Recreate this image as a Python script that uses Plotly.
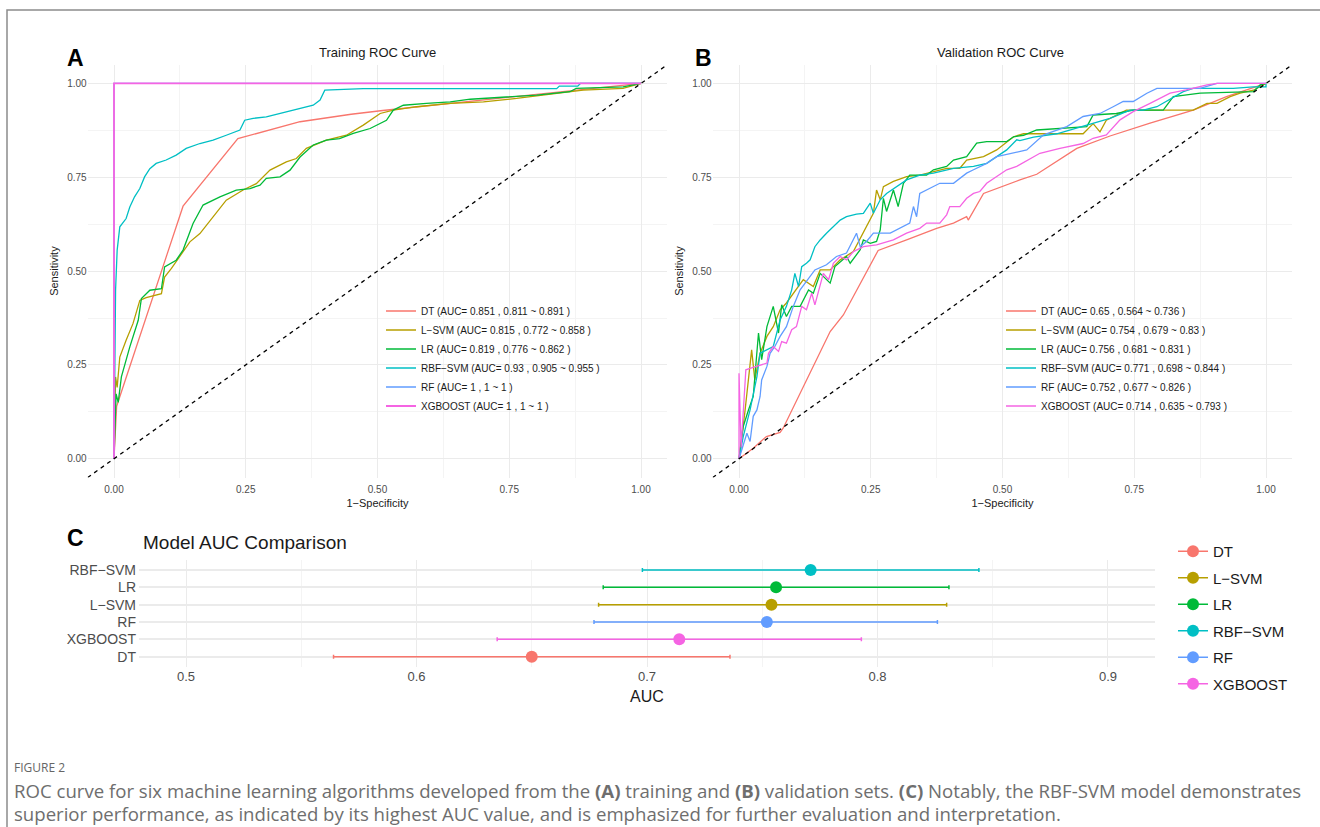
import plotly.graph_objects as go

W, H = 1320, 827


def fx(p):
    return p / W


def fy(p):
    return 1 - p / H


# ---------------- data ----------------
models = ["DT", "L-SVM", "LR", "RBF-SVM", "RF", "XGBOOST"]
model_labels = ["DT", "L\u2212SVM", "LR", "RBF\u2212SVM", "RF", "XGBOOST"]
colors = ["#F8766D", "#B79F00", "#00BA38", "#00BFC4", "#619CFF", "#F564E3"]

train_auc = ["0.851 , 0.811 ~ 0.891", "0.815 , 0.772 ~ 0.858", "0.819 , 0.776 ~ 0.862",
             "0.93 , 0.905 ~ 0.955", "1 , 1 ~ 1", "1 , 1 ~ 1"]
val_auc_text = ["0.65 , 0.564 ~ 0.736", "0.754 , 0.679 ~ 0.83", "0.756 , 0.681 ~ 0.831",
                "0.771 , 0.698 ~ 0.844", "0.752 , 0.677 ~ 0.826", "0.714 , 0.635 ~ 0.793"]

# validation AUC with 95% CI (panel C)
val_auc = [0.65, 0.754, 0.756, 0.771, 0.752, 0.714]
val_lo = [0.564, 0.679, 0.681, 0.698, 0.677, 0.635]
val_hi = [0.736, 0.83, 0.831, 0.844, 0.826, 0.793]
order_bottom_to_top = ["DT", "XGBOOST", "RF", "L\u2212SVM", "LR", "RBF\u2212SVM"]

# training ROC curves (fpr, tpr)
train_dt = [(0, 0), (0.005, 0.14), (0.131, 0.673), (0.235, 0.853), (0.353, 0.898), (0.45, 0.918),
            (0.51, 0.928), (0.75, 0.963), (1, 1)]
train_lsvm = [(0, 0), (0.003, 0.218), (0.006, 0.19), (0.011, 0.271), (0.023, 0.316), (0.036, 0.36),
              (0.049, 0.422), (0.061, 0.429), (0.09, 0.44), (0.096, 0.484), (0.109, 0.507),
              (0.125, 0.538), (0.144, 0.578), (0.163, 0.6), (0.188, 0.644), (0.213, 0.689),
              (0.245, 0.716), (0.27, 0.733), (0.296, 0.769), (0.327, 0.791), (0.346, 0.8),
              (0.365, 0.827), (0.403, 0.849), (0.441, 0.862), (0.473, 0.889), (0.505, 0.92),
              (0.53, 0.929), (0.574, 0.938), (0.638, 0.947), (0.701, 0.951), (0.764, 0.96),
              (0.815, 0.969), (0.859, 0.978), (0.89, 0.982), (0.966, 0.987), (1, 1)]
train_lr = [(0, 0), (0.004, 0.173), (0.008, 0.15), (0.014, 0.218), (0.03, 0.298), (0.046, 0.369),
            (0.052, 0.427), (0.068, 0.449), (0.09, 0.453), (0.096, 0.511), (0.118, 0.529),
            (0.131, 0.556), (0.15, 0.627), (0.169, 0.676), (0.201, 0.698), (0.232, 0.716),
            (0.258, 0.72), (0.277, 0.729), (0.289, 0.747), (0.315, 0.751), (0.334, 0.769),
            (0.353, 0.804), (0.378, 0.836), (0.403, 0.849), (0.428, 0.853), (0.454, 0.867),
            (0.486, 0.88), (0.517, 0.902), (0.53, 0.929), (0.549, 0.942), (0.593, 0.947),
            (0.638, 0.951), (0.676, 0.958), (0.752, 0.964), (0.802, 0.969), (0.865, 0.978),
            (0.877, 0.987), (0.966, 0.991), (1, 1)]
train_rbf = [(0, 0), (0.003, 0.45), (0.006, 0.556), (0.011, 0.618), (0.023, 0.64), (0.03, 0.671),
             (0.039, 0.698), (0.049, 0.72), (0.058, 0.751), (0.068, 0.773), (0.08, 0.787),
             (0.099, 0.796), (0.118, 0.809), (0.137, 0.827), (0.163, 0.84), (0.188, 0.849),
             (0.213, 0.862), (0.239, 0.876), (0.248, 0.902), (0.264, 0.907), (0.289, 0.911),
             (0.315, 0.92), (0.346, 0.929), (0.378, 0.942), (0.391, 0.956), (0.4, 0.982),
             (0.473, 0.986), (0.84, 0.986), (0.845, 0.993), (0.88, 0.993), (0.885, 1), (1, 1)]
train_rf = [(0, 0), (0, 1), (1, 1)]
train_xgb = [(0, 0), (0, 1), (0.006, 1), (1, 1)]

# validation ROC curves (fpr, tpr)
val_dt = [(0, 0), (0.027, 0.028), (0.052, 0.059), (0.078, 0.07), (0.084, 0.082), (0.116, 0.175),
          (0.147, 0.264), (0.173, 0.339), (0.198, 0.383), (0.23, 0.468), (0.264, 0.555),
          (0.318, 0.583), (0.375, 0.614), (0.407, 0.628), (0.432, 0.645), (0.435, 0.636),
          (0.464, 0.707), (0.533, 0.743), (0.565, 0.758), (0.641, 0.827), (0.704, 0.86),
          (0.78, 0.894), (0.862, 0.929), (0.925, 0.965), (1, 1)]
val_lsvm = [(0, 0), (0.011, 0.122), (0.024, 0.29), (0.03, 0.21), (0.04, 0.281), (0.053, 0.326),
            (0.065, 0.352), (0.078, 0.397), (0.09, 0.415), (0.109, 0.45), (0.122, 0.477),
            (0.141, 0.459), (0.154, 0.503), (0.173, 0.503), (0.192, 0.53), (0.217, 0.552),
            (0.236, 0.601), (0.255, 0.654), (0.261, 0.716), (0.268, 0.69), (0.274, 0.725),
            (0.293, 0.739), (0.318, 0.752), (0.343, 0.756), (0.394, 0.774), (0.419, 0.774),
            (0.432, 0.796), (0.464, 0.805), (0.489, 0.823), (0.521, 0.858), (0.54, 0.866),
            (0.653, 0.866), (0.672, 0.893), (0.685, 0.871), (0.697, 0.902), (0.735, 0.929),
            (0.862, 0.929), (0.888, 0.947), (0.907, 0.947), (0.932, 0.965), (0.951, 0.974),
            (0.976, 0.982), (1, 1)]
val_lr = [(0, 0), (0.008, 0.086), (0.018, 0.13), (0.027, 0.166), (0.037, 0.335), (0.043, 0.264),
          (0.053, 0.352), (0.065, 0.406), (0.075, 0.335), (0.081, 0.41), (0.09, 0.379),
          (0.1, 0.406), (0.116, 0.406), (0.132, 0.45), (0.141, 0.441), (0.154, 0.494),
          (0.173, 0.468), (0.182, 0.512), (0.204, 0.539), (0.211, 0.521), (0.23, 0.557),
          (0.236, 0.583), (0.249, 0.574), (0.261, 0.579), (0.268, 0.61), (0.274, 0.694),
          (0.28, 0.659), (0.293, 0.716), (0.302, 0.672), (0.312, 0.734), (0.324, 0.756),
          (0.356, 0.756), (0.369, 0.77), (0.394, 0.779), (0.407, 0.796), (0.432, 0.805),
          (0.451, 0.841), (0.47, 0.845), (0.508, 0.845), (0.521, 0.858), (0.54, 0.862),
          (0.565, 0.876), (0.66, 0.885), (0.672, 0.916), (0.716, 0.92), (0.748, 0.929),
          (0.805, 0.929), (0.824, 0.965), (0.875, 0.974), (0.976, 0.978), (0.989, 0.996), (1, 1)]
val_rbf = [(0, 0), (0.008, 0.059), (0.021, 0.13), (0.034, 0.219), (0.04, 0.281), (0.053, 0.29),
           (0.065, 0.299), (0.078, 0.37), (0.09, 0.406), (0.1, 0.45), (0.106, 0.494),
           (0.113, 0.459), (0.119, 0.512), (0.128, 0.521), (0.135, 0.53), (0.144, 0.565),
           (0.154, 0.583), (0.166, 0.601), (0.179, 0.619), (0.192, 0.636), (0.204, 0.645),
           (0.223, 0.652), (0.236, 0.654), (0.249, 0.681), (0.255, 0.654), (0.268, 0.69),
           (0.28, 0.707), (0.299, 0.725), (0.318, 0.743), (0.343, 0.756), (0.369, 0.761),
           (0.407, 0.774), (0.445, 0.779), (0.47, 0.787), (0.508, 0.823), (0.527, 0.85),
           (0.533, 0.848), (0.559, 0.857), (0.603, 0.866), (0.66, 0.889), (0.704, 0.907),
           (0.742, 0.929), (0.767, 0.929), (0.793, 0.938), (0.843, 0.978), (0.862, 0.987),
           (0.938, 0.987), (0.976, 0.991), (1, 0.991), (1, 1)]
val_rf = [(0, 0), (0.015, 0.068), (0.021, 0.046), (0.027, 0.113), (0.034, 0.13), (0.04, 0.166),
          (0.043, 0.21), (0.053, 0.246), (0.059, 0.281), (0.068, 0.299), (0.078, 0.326),
          (0.09, 0.352), (0.103, 0.406), (0.116, 0.45), (0.144, 0.503), (0.166, 0.517),
          (0.185, 0.539), (0.204, 0.548), (0.223, 0.601), (0.23, 0.565), (0.242, 0.579),
          (0.255, 0.601), (0.287, 0.601), (0.306, 0.614), (0.324, 0.628), (0.331, 0.672),
          (0.337, 0.645), (0.343, 0.707), (0.356, 0.716), (0.381, 0.734), (0.407, 0.734),
          (0.432, 0.761), (0.445, 0.77), (0.47, 0.787), (0.489, 0.805), (0.514, 0.812),
          (0.546, 0.823), (0.578, 0.863), (0.622, 0.885), (0.653, 0.912), (0.685, 0.92),
          (0.71, 0.938), (0.729, 0.952), (0.748, 0.952), (0.774, 0.974), (0.793, 0.987),
          (0.875, 0.987), (0.907, 1), (1, 1)]
val_xgb = [(0, 0), (0, 0.228), (0.004, 0.03), (0.013, 0.237), (0.021, 0.241), (0.04, 0.25),
           (0.053, 0.255), (0.056, 0.281), (0.065, 0.299), (0.075, 0.286), (0.081, 0.312),
           (0.09, 0.308), (0.1, 0.344), (0.109, 0.352), (0.119, 0.406), (0.128, 0.397),
           (0.138, 0.441), (0.144, 0.41), (0.154, 0.459), (0.16, 0.494), (0.17, 0.477),
           (0.179, 0.521), (0.192, 0.539), (0.204, 0.53), (0.217, 0.552), (0.236, 0.565),
           (0.261, 0.57), (0.293, 0.583), (0.318, 0.601), (0.343, 0.614), (0.356, 0.628),
           (0.381, 0.628), (0.394, 0.65), (0.4, 0.672), (0.419, 0.672), (0.432, 0.694),
           (0.445, 0.707), (0.457, 0.712), (0.47, 0.734), (0.489, 0.752), (0.508, 0.77),
           (0.527, 0.779), (0.559, 0.805), (0.571, 0.814), (0.609, 0.827), (0.653, 0.84),
           (0.672, 0.854), (0.697, 0.863), (0.723, 0.903), (0.748, 0.925), (0.78, 0.947),
           (0.818, 0.974), (0.849, 0.983), (0.888, 0.996), (0.907, 1), (1, 1)]

train_curves = [train_dt, train_lsvm, train_lr, train_rbf, train_rf, train_xgb]
val_curves = [val_dt, val_lsvm, val_lr, val_rbf, val_rf, val_xgb]

roc_ticks = [0, 0.25, 0.5, 0.75, 1.0]
roc_ticktext = ["0.00", "0.25", "0.50", "0.75", "1.00"]
roc_minor = [0.125, 0.375, 0.625, 0.875]
auc_ticks = [0.5, 0.6, 0.7, 0.8, 0.9]
auc_minor = [0.55, 0.65, 0.75, 0.85]

# ---------------- figure ----------------
FONT = "Liberation Sans, Arial, sans-serif"
GRID = "#EBEBEB"
MINOR = "#F4F4F4"
TICKC = "#4D4D4D"

fig = go.Figure()

for curves, xa, ya, leg, texts in [
    (train_curves, "x", "y", "legend", train_auc),
    (val_curves, "x2", "y2", "legend2", val_auc_text),
]:
    for name, lab, col, pts, t in zip(models, model_labels, colors, curves, texts):
        lw = 1.8 if (name == "XGBOOST" and xa == "x") else 1.3
        fig.add_trace(go.Scatter(
            x=[p[0] for p in pts], y=[p[1] for p in pts], mode="lines",
            line=dict(color=col, width=lw), name=f"{lab} (AUC= {t} )",
            xaxis=xa, yaxis=ya, legend=leg, hoverinfo="skip",
        ))

for i, (lab, col) in enumerate(zip(model_labels, colors)):
    fig.add_trace(go.Scatter(
        x=[val_auc[i]], y=[lab], mode="lines+markers",
        marker=dict(color=col, size=12),
        line=dict(color=col, width=1.5),
        error_x=dict(type="data", symmetric=False,
                     array=[val_hi[i] - val_auc[i]],
                     arrayminus=[val_auc[i] - val_lo[i]],
                     color=col, thickness=1.5, width=2),
        name=lab, xaxis="x3", yaxis="y3", legend="legend3",
        legendgroup=lab, hoverinfo="skip",
    ))

roc_range = [-0.05, 1.05]


def roc_axis(domain, title=None, standoff=4):
    d = dict(
        domain=domain, range=roc_range, tickmode="array", tickvals=roc_ticks,
        ticktext=roc_ticktext, showgrid=True, gridcolor=GRID, gridwidth=1.2,
        zeroline=False, showline=False, ticks="",
        tickfont=dict(size=10, color=TICKC, family=FONT),
        minor=dict(tickvals=roc_minor, showgrid=True, gridcolor=MINOR, gridwidth=0.7),
    )
    if title:
        d["title"] = dict(text=title, font=dict(size=11, color="#1A1A1A", family=FONT),
                          standoff=standoff)
    return d


xdomA = [fx(87.65), fx(667.35)]
xdomB = [fx(712.65), fx(1292.35)]
ydomAB = [fy(477.5), fy(64.7)]

xA = roc_axis(xdomA, "1\u2212Specificity", 5)
xA["ticklabelstandoff"] = 4
xB = roc_axis(xdomB, "1\u2212Specificity", 5)
xB["ticklabelstandoff"] = 4
xB["anchor"] = "y2"

fig.update_layout(
    width=W, height=H, margin=dict(l=0, r=0, t=0, b=0),
    paper_bgcolor="white", plot_bgcolor="white",
    font=dict(family=FONT, color="#1A1A1A"),
    xaxis=xA,
    yaxis=dict(roc_axis(ydomAB, "Sensitivity", 6), anchor="x"),
    xaxis2=xB,
    yaxis2=dict(roc_axis(ydomAB, "Sensitivity", 6), anchor="x2"),
    xaxis3=dict(
        domain=[fx(139), fx(1155)], range=[0.4796, 0.9204], anchor="y3",
        tickmode="array", tickvals=auc_ticks, ticktext=[str(v) for v in auc_ticks],
        showgrid=True, gridcolor=GRID, gridwidth=1.2, zeroline=False, showline=False,
        ticks="", tickfont=dict(size=13, color=TICKC, family=FONT),
        minor=dict(tickvals=auc_minor, showgrid=True, gridcolor=MINOR, gridwidth=0.7),
        title=dict(text="AUC", font=dict(size=16, color="#1A1A1A", family=FONT), standoff=7),
    ),
    yaxis3=dict(
        domain=[fy(667.1), fy(559.6)], anchor="x3", type="category",
        categoryorder="array", categoryarray=order_bottom_to_top, range=[-0.6, 5.6],
        showgrid=True, gridcolor=GRID, gridwidth=1.5, zeroline=False, showline=False,
        ticks="", tickfont=dict(size=14, color=TICKC, family=FONT), ticklabelstandoff=2,
    ),
    legend=dict(x=fx(381), y=fy(296.5), xanchor="left", yanchor="top",
                bgcolor="rgba(0,0,0,0)", font=dict(size=10, color="#1A1A1A", family=FONT)),
    legend2=dict(x=fx(1001), y=fy(296.5), xanchor="left", yanchor="top",
                 bgcolor="rgba(0,0,0,0)", font=dict(size=10, color="#1A1A1A", family=FONT)),
    legend3=dict(x=fx(1173), y=fy(535), xanchor="left", yanchor="top",
                 bgcolor="rgba(0,0,0,0)", font=dict(size=15, color="#1A1A1A", family=FONT),
                 traceorder="grouped", tracegroupgap=4),
    showlegend=True,
)

# reference diagonal lines (y = x) across each ROC panel
for xr, yr in [("x", "y"), ("x2", "y2")]:
    fig.add_shape(type="line", xref=xr, yref=yr, x0=roc_range[0], y0=roc_range[0],
                  x1=roc_range[1], y1=roc_range[1],
                  line=dict(color="black", width=1.3, dash="4px,4px"), layer="above")

# figure frame (left and top edges visible in the view)
fig.add_shape(type="rect", xref="paper", yref="paper", x0=fx(7), y0=fy(850), x1=fx(1335), y1=fy(10),
              line=dict(color="#8C8C8C", width=1.5), layer="below")

ann = []
ann.append(dict(text="Training ROC Curve", x=fx(377), y=fy(52), font=dict(size=13)))
ann.append(dict(text="Validation ROC Curve", x=fx(1000), y=fy(52), font=dict(size=13)))
ann.append(dict(text="<b>A</b>", x=fx(75), y=fy(58), font=dict(size=23, color="black")))
ann.append(dict(text="<b>B</b>", x=fx(703), y=fy(58), font=dict(size=23, color="black")))
ann.append(dict(text="<b>C</b>", x=fx(75), y=fy(538), font=dict(size=23, color="black")))
ann.append(dict(text="Model AUC Comparison", x=fx(141), y=fy(542), xanchor="left",
                font=dict(size=19, color="#1A1A1A")))

CAP = "Open Sans, Noto Sans, sans-serif"
ann.append(dict(text="FIGURE 2", x=fx(12), y=fy(767), xanchor="left",
                font=dict(size=12, color="#666666", family=CAP)))
ann.append(dict(text="ROC curve for six machine learning algorithms developed from the <b>(A)</b> training and "
                     "<b>(B)</b> validation sets. <b>(C)</b> Notably, the RBF-SVM model demonstrates",
                x=fx(12), y=fy(790), xanchor="left", font=dict(size=18.6, color="#6E6E6E", family=CAP)))
ann.append(dict(text="superior performance, as indicated by its highest AUC value, and is emphasized for "
                     "further evaluation and interpretation.",
                x=fx(12), y=fy(813), xanchor="left", font=dict(size=18.6, color="#6E6E6E", family=CAP)))

for a in ann:
    a.setdefault("xanchor", "center")
    a["yanchor"] = "middle"
    a["xref"] = "paper"
    a["yref"] = "paper"
    a["showarrow"] = False
    fig.add_annotation(**a)

fig.write_html(
    "out.html",
    config={"displayModeBar": False},
    post_script="document.body.style.margin='0';document.body.style.overflow='hidden';",
)
